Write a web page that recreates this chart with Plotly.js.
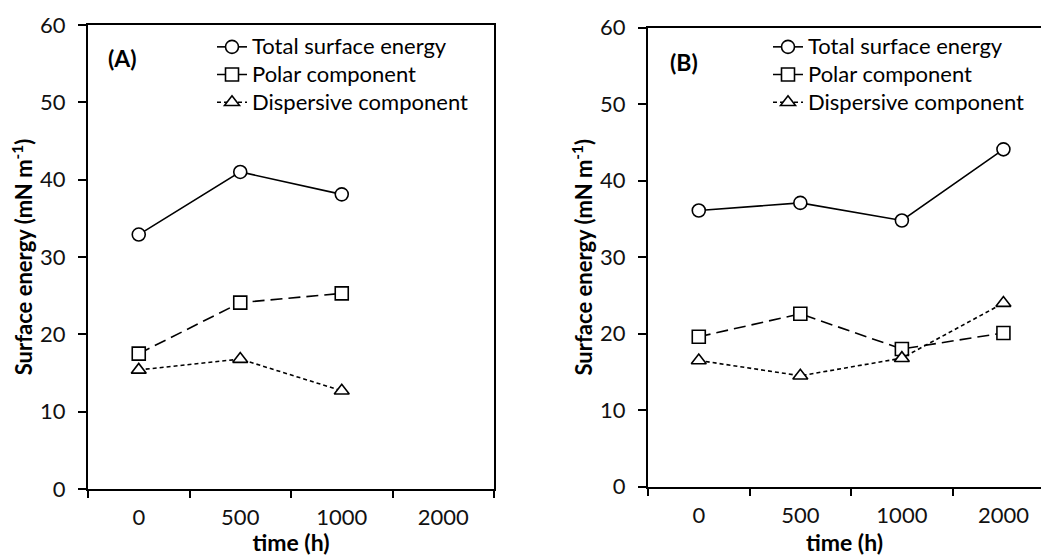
<!DOCTYPE html>
<html><head><meta charset="utf-8">
<script src="https://cdn.plot.ly/plotly-3.0.1.min.js"></script>
<style>html,body{margin:0;padding:0;overflow:hidden;background:#fff}</style>
</head><body><div id="chart" style="width:1041px;height:556px"></div>
<script>
const timeCats = ['0', '500', '1000', '2000'];
const seriesNames = ['Total surface energy', 'Polar component', 'Dispersive component'];
// Panel A
const totalA = [32.9, 41.0, 38.1];
const polarA = [17.5, 24.1, 25.3];
const dispA = [15.4, 16.8, 12.7];
// Panel B
const totalB = [36.1, 37.1, 34.8, 44.1];
const polarB = [19.6, 22.6, 18.0, 20.1];
const dispB = [16.5, 14.5, 16.8, 24.0];
const yTicks = [0, 10, 20, 30, 40, 50, 60];

const FONT = 'Lato, "Open Sans", sans-serif';
const styles = [
  {dash: 'solid', symbol: 'circle', size: 13},
  {dash: '12px,6px', symbol: 'square', size: 13},
  {dash: '4px,3px', symbol: 'triangle-up', size: 13}
];
function mk(x, y, i, xa, ya, leg) {
  return {
    type: 'scatter', mode: 'lines+markers', x: x, y: y,
    name: '<span style="font-size:22px">' + seriesNames[i] + '</span>',
    xaxis: xa, yaxis: ya, legend: leg,
    line: {color: '#000', width: 1.6, dash: styles[i].dash},
    marker: {symbol: styles[i].symbol, size: styles[i].size, color: '#fff', line: {color: '#000', width: 1.6}},
    cliponaxis: false
  };
}
const data = [
  mk(timeCats.slice(0, 3), totalA, 0, 'x', 'y', 'legend'),
  mk(timeCats.slice(0, 3), polarA, 1, 'x', 'y', 'legend'),
  mk(timeCats.slice(0, 3), dispA, 2, 'x', 'y', 'legend'),
  mk(timeCats, totalB, 0, 'x2', 'y2', 'legend2'),
  mk(timeCats, polarB, 1, 'x2', 'y2', 'legend2'),
  mk(timeCats, dispB, 2, 'x2', 'y2', 'legend2')
];
const W = 1041, H = 556;
function xaxisDef(domain, range, mirror) {
  return {
    domain: domain, type: 'category', categoryorder: 'array', categoryarray: timeCats,
    range: range, showline: true, linecolor: '#000', linewidth: 2, mirror: mirror,
    ticks: 'outside', ticklen: 7, tickwidth: 2, tickcolor: '#000', tickson: 'boundaries',
    showgrid: false, zeroline: false, ticklabelstandoff: 8,
    tickfont: {family: FONT, size: 22, color: '#111'},
    title: {text: '<b>time (h)</b>', font: {family: FONT, size: 23, color: '#000'}, standoff: 0},
    fixedrange: true
  };
}
function yaxisDef(domain, anchor, mirror) {
  return {
    domain: domain, anchor: anchor, range: [0, 60], tickvals: yTicks,
    showline: true, linecolor: '#000', linewidth: 2, mirror: mirror,
    ticks: 'outside', ticklen: 8, tickwidth: 2, tickcolor: '#000',
    showgrid: false, zeroline: false, ticklabelstandoff: 8,
    tickfont: {family: FONT, size: 22, color: '#111'},
    title: {text: '<b>Surface energy (mN m<sup>-1</sup>)</b>', font: {family: FONT, size: 22, color: '#000'}, standoff: 1},
    fixedrange: true
  };
}
const legendDef = (x, y) => ({
  x: x, y: y, xanchor: 'left', yanchor: 'top', bgcolor: 'rgba(0,0,0,0)',
  font: {family: FONT, size: 19, color: '#000'}, itemwidth: 30, tracegroupgap: 0
});
const layout = {
  width: W, height: H, margin: {l: 0, r: 0, t: 0, b: 0},
  paper_bgcolor: '#fff', plot_bgcolor: '#fff', showlegend: true,
  font: {family: FONT, color: '#000'},
  xaxis: xaxisDef([88 / W, 494 / W], [-0.5, 3.5], true),
  yaxis: yaxisDef([(H - 489) / H, (H - 25) / H], 'x', true),
  xaxis2: Object.assign(xaxisDef([648 / W, 1], [-0.5, 3.37], true), {anchor: 'y2'}),
  yaxis2: yaxisDef([(H - 486.7) / H, (H - 27.7) / H], 'x2', false),
  legend: legendDef(212 / W, (H - 28) / H),
  legend2: legendDef(768 / W, (H - 28) / H),
  annotations: [
    {text: '<b>(A)</b>', xref: 'paper', yref: 'paper', x: 106 / W, y: (H - 58) / H, xanchor: 'left', yanchor: 'middle', showarrow: false, font: {family: FONT, size: 23, color: '#000'}},
    {text: '<b>(B)</b>', xref: 'paper', yref: 'paper', x: 668 / W, y: (H - 62) / H, xanchor: 'left', yanchor: 'middle', showarrow: false, font: {family: FONT, size: 23, color: '#000'}}
  ]
};
Plotly.newPlot('chart', data, layout, {displayModeBar: false, staticPlot: true});
</script></body></html>
